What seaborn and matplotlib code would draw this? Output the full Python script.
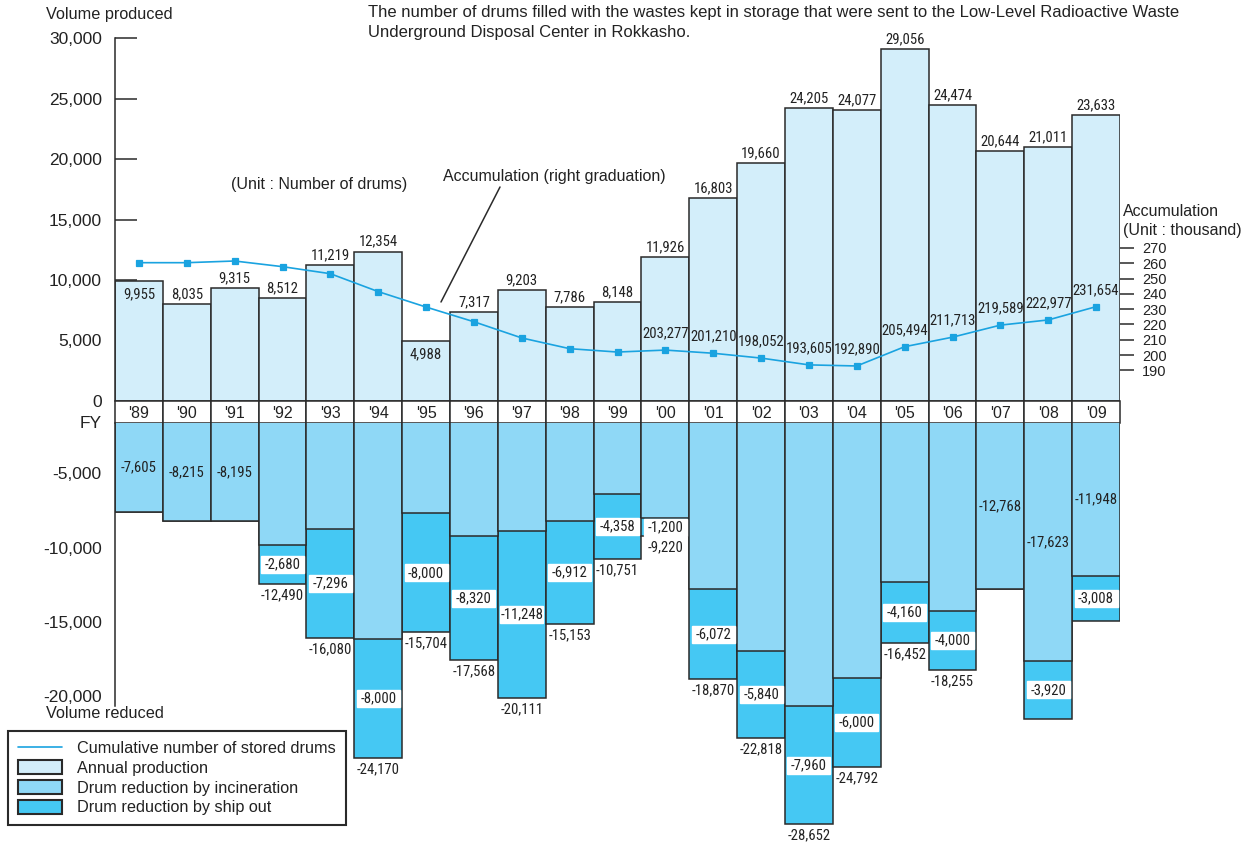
#============ Low-level waste drums: production / reduction / accumulation ============

import numpy as np
import matplotlib
matplotlib.use("Agg")
import matplotlib.pyplot as plt
import pandas as pd
import seaborn as sns
from matplotlib import font_manager
from matplotlib.font_manager import FontProperties
from matplotlib.patches import Patch
from matplotlib.lines import Line2D

# ---------------- data ----------------
years = ["'89", "'90", "'91", "'92", "'93", "'94", "'95", "'96", "'97", "'98", "'99",
         "'00", "'01", "'02", "'03", "'04", "'05", "'06", "'07", "'08", "'09"]
production = [9955, 8035, 9315, 8512, 11219, 12354, 4988, 7317, 9203, 7786, 8148,
              11926, 16803, 19660, 24205, 24077, 29056, 24474, 20644, 21011, 23633]
incineration = [7605, 8215, 8195, 9810, 8784, 16170, 7704, 9248, 8863, 8241, 6393,
                8020, 12798, 16978, 20692, 18792, 12292, 14255, 12768, 17623, 11948]
ship_out = [0, 0, 0, 2680, 7296, 8000, 8000, 8320, 11248, 6912, 4358,
            1200, 6072, 5840, 7960, 6000, 4160, 4000, 0, 3920, 3008]
accumulation = [260.4, 260.4, 261.5, 257.8, 253.2, 241.5, 231.4, 221.8, 211.2, 204.2, 202.0,
                203.277, 201.210, 198.052, 193.605, 192.890, 205.494, 211.713, 219.589, 222.977, 231.654]

acc_labelled = years[11:]
prod_inside = ["'89", "'95"]
incin_labelled = ["'89", "'90", "'91", "'07", "'08", "'09"]
total_labelled = years[3:18]

df = pd.DataFrame({
    "year": years,
    "production": production,
    "incineration": [-v for v in incineration],
    "total": [-(a + b) for a, b in zip(incineration, ship_out)],
    "accumulation": accumulation,
})

# ---------------- style ----------------
sns.set_style("white")
plt.rcParams["font.family"] = ["Liberation Sans", "DejaVu Sans"]


def pick_narrow():
    fl = font_manager.fontManager.ttflist
    regular = lambda f: f.style == "normal" and f.weight in (400, "normal", "regular")
    for name in ["Liberation Sans Narrow", "Roboto Condensed", "Open Sans Condensed",
                 "Noto Sans Condensed", "DejaVu Sans Condensed"]:
        for f in fl:
            if f.name == name and regular(f):
                return f.fname
    for f in fl:
        if (f.stretch in ("condensed", "semi-condensed") and regular(f)
                and "Mono" not in f.name and "Serif" not in f.name and "CJK" not in f.name):
            return f.fname
    return None


narrow_file = pick_narrow()

C_PROD = "#d3eefa"
C_INC = "#8fd8f6"
C_SHIP = "#45c8f3"
C_LINE = "#1aa3e0"
EDGE = "#2a2a2a"
TXT = "#222222"
LW = 1.1

W, H = 1255, 849
fig = plt.figure(figsize=(W / 100, H / 100), dpi=100)
renderer = fig.canvas.get_renderer()


def font_for(sample, target_px):
    fp = FontProperties(fname=narrow_file) if narrow_file else FontProperties(family="Liberation Sans")
    fp.set_size(10)
    t = fig.text(0, 0, sample, fontproperties=fp)
    w = t.get_window_extent(renderer).width
    t.remove()
    fp.set_size(10 * target_px / w)
    return fp


FP_NUM = font_for("9,955", 32)

X0, X1 = 115, 1120
ax_top = fig.add_axes([X0 / W, 1 - 401 / H, (X1 - X0) / W, 363 / H])
ax_band = fig.add_axes([X0 / W, 1 - 423 / H, (X1 - X0) / W, 22 / H])
ax_bot = fig.add_axes([X0 / W, 0, (X1 - X0) / W, (H - 423) / H])

# lower scale: zero at px 399, 14.85 px per 1000 drums
ZERO_PX, PX_K = 399, 14.85
bot_top = -(423 - ZERO_PX) / PX_K * 1000
bot_bottom = -(H - ZERO_PX) / PX_K * 1000

bar_kw = dict(width=1, edgecolor=EDGE, linewidth=LW, errorbar=None, saturation=1)

# ---------------- upper: annual production ----------------
sns.barplot(data=df, x="year", y="production", ax=ax_top, color=C_PROD, **bar_kw)
ax_top.set_xlim(-0.5, len(years) - 0.5)
ax_top.set_ylim(0, 30000)
ax_top.set_axisbelow(True)
for s in ["top", "right", "bottom"]:
    ax_top.spines[s].set_visible(False)
ax_top.spines["left"].set_color(EDGE)
ax_top.spines["left"].set_linewidth(LW)
yt = list(range(0, 30001, 5000))
ax_top.set_yticks(yt)
ax_top.set_yticklabels([f"{v:,}" for v in yt], fontsize=12.5, color=TXT)
ax_top.tick_params(axis="y", direction="in", length=16, width=LW, color=EDGE, pad=9.5)
ax_top.tick_params(axis="x", bottom=False, labelbottom=False)
ax_top.set_xlabel("")
ax_top.set_ylabel("")

for i, (yr, v) in enumerate(zip(years, production)):
    if yr in prod_inside:
        ax_top.annotate(f"{v:,}", (i, v), xytext=(0, -5), textcoords="offset points",
                        ha="center", va="top", fontproperties=FP_NUM, color=TXT)
    else:
        ax_top.annotate(f"{v:,}", (i, v), xytext=(0, 2), textcoords="offset points",
                        ha="center", va="bottom", fontproperties=FP_NUM, color=TXT)

# accumulation on right graduation
ax2 = ax_top.twinx()
sns.pointplot(data=df, x="year", y="accumulation", ax=ax2, color=C_LINE, markers="s",
              markersize=5, linewidth=1.2, errorbar=None)
ax2.set_ylim(170, 407.25)
ax2.set_xlim(-0.5, len(years) - 0.5)
for s in ax2.spines.values():
    s.set_visible(False)
rt = list(range(190, 271, 10))
ax2.set_yticks(rt)
ax2.set_yticklabels([str(v) for v in rt], fontsize=10.5, color=TXT)
ax2.tick_params(axis="y", direction="out", length=10, width=LW, color=EDGE, pad=6)
ax2.tick_params(axis="x", bottom=False, labelbottom=False)
ax2.set_xlabel("")
ax2.set_ylabel("")
for i, (yr, v) in enumerate(zip(years, accumulation)):
    if yr in acc_labelled:
        ax2.annotate(f"{v * 1000:,.0f}", (i, v), xytext=(0, 7), textcoords="offset points",
                     ha="center", va="bottom", fontproperties=FP_NUM, color=TXT)

# ---------------- FY band ----------------
sns.barplot(x=years, y=[1] * len(years), ax=ax_band, color="white", **bar_kw)
ax_band.set_xlim(-0.5, len(years) - 0.5)
ax_band.set_ylim(0, 1)
for p in ax_band.patches:
    p.set_clip_on(False)
ax_band.axis("off")
for i, yr in enumerate(years):
    ax_band.text(i, 0.45, yr, ha="center", va="center", fontsize=11.5, color=TXT)

# ---------------- lower: reductions ----------------
sns.barplot(data=df, x="year", y="total", ax=ax_bot, color=C_SHIP, **bar_kw)
sns.barplot(data=df, x="year", y="incineration", ax=ax_bot, color=C_INC, **bar_kw)
ax_bot.set_xlim(-0.5, len(years) - 0.5)
ax_bot.set_ylim(bot_bottom, bot_top)
ax_bot.set_axisbelow(True)
for s in ["top", "right", "bottom"]:
    ax_bot.spines[s].set_visible(False)
ax_bot.spines["left"].set_color(EDGE)
ax_bot.spines["left"].set_linewidth(LW)
ax_bot.spines["left"].set_bounds(-20700, bot_top)
bt = [-5000, -10000, -15000, -20000]
ax_bot.set_yticks(bt)
ax_bot.set_yticklabels([f"{v:,}" for v in bt], fontsize=12.5, color=TXT)
ax_bot.tick_params(axis="y", direction="in", length=13, width=LW, color=EDGE, pad=9.5)
ax_bot.tick_params(axis="x", bottom=False, labelbottom=False)
ax_bot.set_xlabel("")
ax_bot.set_ylabel("")

BOX_H = 17 / PX_K * 1000
for i, yr in enumerate(years):
    inc, shp = incineration[i], ship_out[i]
    if yr in incin_labelled:
        ax_bot.text(i, (bot_top - inc) / 2, f"{-inc:,}", ha="center", va="center",
                    fontproperties=FP_NUM, color=TXT)
    if shp > 0:
        mid = -(inc + shp / 2)
        ax_bot.bar(i, BOX_H, bottom=mid - BOX_H / 2, width=0.9, color="white", zorder=3)
        ax_bot.text(i, mid, f"{-shp:,}", ha="center", va="center", zorder=4,
                    fontproperties=FP_NUM, color=TXT)
    if yr in total_labelled:
        ax_bot.annotate(f"{-(inc + shp):,}", (i, -(inc + shp)), xytext=(0, -3),
                        textcoords="offset points", ha="center", va="top",
                        fontproperties=FP_NUM, color=TXT, annotation_clip=False)

# ---------------- texts ----------------
fig.text(46 / W, 1 - 15 / H, "Volume produced", fontsize=11.7, color=TXT, va="center")
fig.text(46 / W, 1 - 713 / H, "Volume reduced", fontsize=11.7, color=TXT, va="center")
fig.text(102 / W, 1 - 424 / H, "FY", fontsize=12.5, color=TXT, va="center", ha="right")
fig.text(1123 / W, 1 - 212 / H, "Accumulation", fontsize=11.5, color=TXT, va="center")
fig.text(1123 / W, 1 - 231 / H, "(Unit : thousand)", fontsize=11.5, color=TXT, va="center")
fig.text(231 / W, 1 - 184 / H, "(Unit : Number of drums)", fontsize=11.5, color=TXT, va="center")
fig.text(443 / W, 1 - 177 / H, "Accumulation (right graduation)", fontsize=11.5, color=TXT, va="center")
fig.add_artist(Line2D([500 / W, 441 / W], [1 - 187 / H, 1 - 302 / H],
                      transform=fig.transFigure, color=EDGE, lw=LW))
fig.text(368 / W, 1 - 12 / H,
         "The number of drums filled with the wastes kept in storage that were sent to the "
         "Low-Level Radioactive Waste", fontsize=12, color=TXT, va="center")
fig.text(368 / W, 1 - 32 / H, "Underground Disposal Center in Rokkasho.",
         fontsize=12, color=TXT, va="center")

# ---------------- legend ----------------
handles = [
    Line2D([], [], color=C_LINE, lw=1.2),
    Patch(facecolor=C_PROD, edgecolor=EDGE, linewidth=1.5),
    Patch(facecolor=C_INC, edgecolor=EDGE, linewidth=1.5),
    Patch(facecolor=C_SHIP, edgecolor=EDGE, linewidth=1.5),
]
labels = ["Cumulative number of stored drums", "Annual production",
          "Drum reduction by incineration", "Drum reduction by ship out"]
leg = fig.legend(handles, labels, loc="upper left", bbox_to_anchor=(8 / W, 1 - 731 / H),
                 frameon=True, fancybox=False, edgecolor=EDGE, framealpha=1, fontsize=11.7,
                 handlelength=2.7, handleheight=0.95, labelspacing=0.25, borderpad=0.6,
                 borderaxespad=0, handletextpad=0.95)
leg.get_frame().set_linewidth(1.5)
for t in leg.get_texts():
    t.set_color(TXT)

fig.savefig("out.png", dpi=100)
